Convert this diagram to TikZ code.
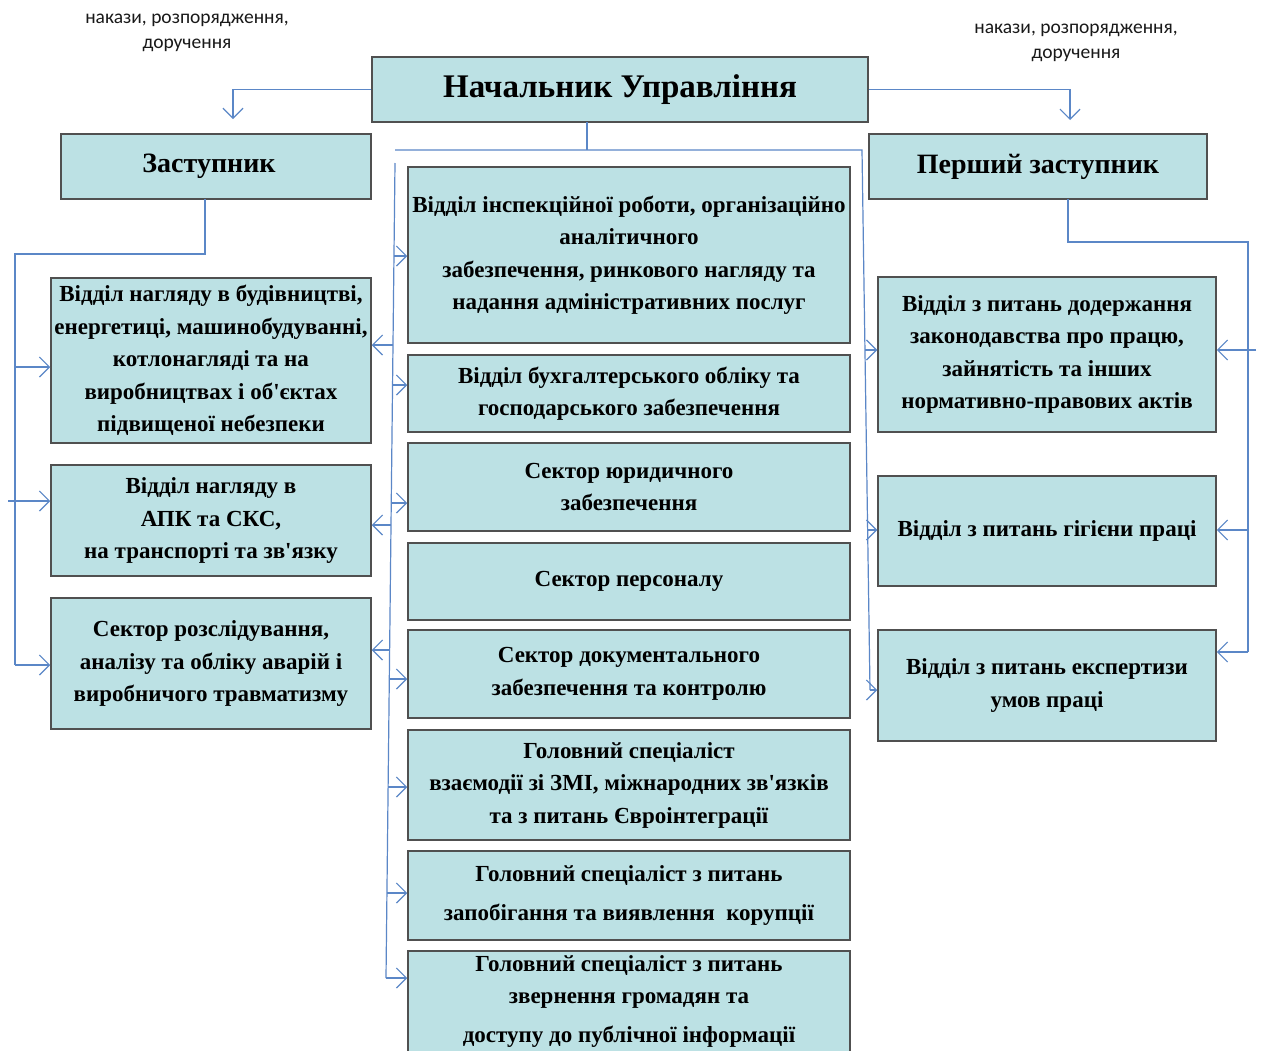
\documentclass[tikz,border=0pt]{standalone}
\usepackage{fontspec}
\setmainfont{Liberation Serif}[Ligatures=TeXOff]
\newfontfamily\lblfont{Carlito}
\usetikzlibrary{arrows.meta}
\definecolor{boxfill}{HTML}{BCE1E4}
\definecolor{boxline}{HTML}{505050}
\definecolor{conn}{HTML}{5B87C7}
\begin{document}
\begin{tikzpicture}[x=1pt,y=-1pt,
  box/.style={draw=boxline, line width=1.5pt, fill=boxfill, inner sep=0pt, align=center,
    font=\bfseries\fontsize{23}{32.5}\selectfont},
  bigbox/.style={box, font=\bfseries\fontsize{28}{32}\selectfont},
  con/.style={draw=conn, line width=1.2pt},
  arr/.style={con, -{Straight Barb[length=10pt,width=20pt,line width=1.2pt]}},
  lbl/.style={align=center, text=black!90, font=\lblfont\fontsize{19.5}{24.5}\selectfont},
]
\fill[white] (0,0) rectangle (1261,1050);
\clip (0,0) rectangle (1261,1050);

% labels
\node[lbl] (lblL) at (187,33) {накази, розпорядження,\\доручення};
\node[lbl] (lblR) at (1076,43) {накази, розпорядження,\\доручення};

% top boxes
\node[box, minimum width=496pt, minimum height=65pt, font=\bfseries\fontsize{33}{36}\selectfont] (head) at (620,89.5) {Начальник Управління};
\node[bigbox, minimum width=310pt, minimum height=65pt] (zast) at (216,166.5) {\hspace*{-14pt}Заступник};
\node[bigbox, minimum width=338pt, minimum height=65pt] (pz) at (1038,166.5) {Перший заступник};

% left boxes
\node[box, minimum width=320pt, minimum height=165pt] (L1) at (211,360.5)
  {Відділ нагляду в будівництві,\\енергетиці, машинобудуванні,\\котлонагляді та на\\виробництвах і об'єктах\\підвищеної небезпеки};
\node[box, minimum width=320pt, minimum height=111pt] (L2) at (211,520.5)
  {Відділ нагляду в\\АПК та СКС,\\на транспорті та зв'язку};
\node[box, minimum width=320pt, minimum height=131pt] (L3) at (211,663.5)
  {Сектор розслідування,\\аналізу та обліку аварій і\\виробничого травматизму};

% centre boxes
\node[box, minimum width=442pt, minimum height=176pt] (C1) at (629,255)
  {Відділ інспекційної роботи, організаційно\\аналітичного\\забезпечення, ринкового нагляду та\\надання адміністративних послуг};
\node[box, minimum width=442pt, minimum height=77pt] (C2) at (629,393.5)
  {Відділ бухгалтерського обліку та\\господарського забезпечення};
\node[box, minimum width=442pt, minimum height=88pt] (C3) at (629,487)
  {Сектор юридичного\\забезпечення};
\node[box, minimum width=442pt, minimum height=77pt] (C4) at (629,581.5)
  {Сектор персоналу};
\node[box, minimum width=442pt, minimum height=88pt] (C5) at (629,674)
  {Сектор документального\\забезпечення та контролю};
\node[box, minimum width=442pt, minimum height=110pt] (C6) at (629,785)
  {Головний спеціаліст\\взаємодії зі ЗМІ, міжнародних зв'язків\\та з питань Євроінтеграції};
\node[box, minimum width=442pt, minimum height=89pt, font=\bfseries\fontsize{23}{39}\selectfont] (C7) at (629,895.5)
  {Головний спеціаліст з питань\\запобігання та виявлення \ корупції};
\node[box, minimum width=442pt, minimum height=124pt] (C8) at (629,1013) {};
\node[align=center, inner sep=0pt, font=\bfseries\fontsize{23}{32}\selectfont] (C8t) at (629,1001)
  {Головний спеціаліст з питань\\звернення громадян та\\[7pt]доступу до публічної інформації};

% right boxes
\node[box, minimum width=338pt, minimum height=155pt] (R1) at (1047,354.5)
  {Відділ з питань додержання\\законодавства про працю,\\зайнятість та інших\\нормативно-правових актів};
\node[box, minimum width=338pt, minimum height=110pt] (R2) at (1047,531)
  {Відділ з питань гігієни праці};
\node[box, minimum width=338pt, minimum height=111pt] (R3) at (1047,685.5)
  {Відділ з питань експертизи\\умов праці};

% head to deputies
\coordinate (zt) at (233,119);
\coordinate (pzt) at (1070,120);
\draw[arr] (head.west) -| (zt);
\draw[arr] (head.east) -| (pzt);

% head to centre bus
\coordinate (hb) at (587,122);
\coordinate (hbj) at (587,150);
\coordinate (bl) at (395,150);
\coordinate (blt) at (395,163);
\coordinate (blb) at (386,978);
\coordinate (br) at (862,150);
\coordinate (brb) at (870,690);
\draw[con] (hb) -- (hbj);
\draw[con] (bl) -- (br) -- (brb);
\draw[con] (blt) -- (blb);

% centre bus arrows to centre boxes
\draw[arr] (394,256) -- (C1.west |- 0,256);
\draw[arr] (392.5,385) -- (C2.west |- 0,385);
\draw[arr] (391.2,503) -- (C3.west |- 0,503);
\draw[arr] (389.3,679) -- (C5.west |- 0,679);
\draw[arr] (388.1,787) -- (C6.west |- 0,787);
\draw[arr] (386.9,893) -- (C7.west |- 0,893);
\draw[arr] (blb) -- (C8.west |- 0,978);

% centre bus arrows to left boxes
\draw[arr] (393,345) -- (L1.east |- 0,345);
\draw[arr] (391,525) -- (L2.east |- 0,525);
\draw[arr] (390,650) -- (L3.east |- 0,650);

% centre bus arrows to right boxes
\draw[arr] (865,350) -- (R1.west |- 0,350);
\draw[arr] (867.6,530) -- (R2.west |- 0,530);
\draw[arr] (brb) -- (R3.west |- 0,690);

% deputy (left)
\coordinate (zb) at (205,199);
\coordinate (zj) at (205,254);
\coordinate (zl) at (15,254);
\coordinate (zlb) at (15,665);
\draw[con] (zb) -- (zj) -- (zl) -- (zlb);
\draw[arr] (15,367) -- (L1.west |- 0,367);
\draw[arr] (8,501) -- (L2.west |- 0,501);
\draw[arr] (zlb) -- (L3.west |- 0,665);

% first deputy (right)
\coordinate (pb) at (1068,199);
\coordinate (pj) at (1068,242);
\coordinate (pr) at (1248,242);
\coordinate (prb) at (1248,652);
\draw[con] (pb) -- (pj) -- (pr) -- (prb);
\draw[arr] (1256,350) -- (R1.east |- 0,350);
\draw[arr] (1248,530) -- (R2.east |- 0,530);
\draw[arr] (prb) -- (R3.east |- 0,652);
\end{tikzpicture}
\end{document}
